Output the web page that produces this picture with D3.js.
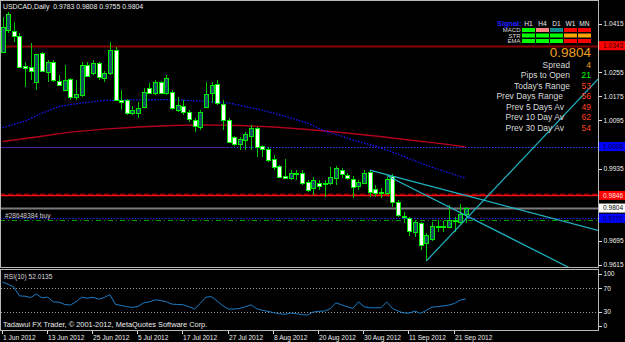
<!DOCTYPE html>
<html><head><meta charset="utf-8">
<script src="https://cdn.jsdelivr.net/npm/d3@7"></script>
<style>html,body{margin:0;padding:0;background:#000;overflow:hidden}text{font-family:"Liberation Sans",Arial,sans-serif}</style>
</head><body><svg id="c" width="625" height="342"></svg>
<script>
// ---------------- DATA ----------------
const titleText = "USDCAD,Daily  0.9783 0.9808 0.9755 0.9804";
const dateTickIdx = [0, 8, 16, 24, 32, 40, 48, 56, 64, 72, 80];
const dateLabels = ["1 Jun 2012","13 Jun 2012","25 Jun 2012","5 Jul 2012","17 Jul 2012","27 Jul 2012","8 Aug 2012","20 Aug 2012","30 Aug 2012","11 Sep 2012","21 Sep 2012"];
const priceTicks = [1.0415, 1.0335, 1.0255, 1.0175, 1.0095, 1.0015, 0.9935, 0.9855, 0.9775, 0.9695, 0.9615];
const rsiTicks = [100, 70, 30, 0];

const openP  = [1.0322,1.0395,1.0392,1.0375,1.0276,1.0272,1.0222,1.0319,1.0256,1.0289,1.0226,1.0196,1.0232,1.0173,1.0179,1.0279,1.0252,1.0285,1.0236,1.0252,1.0329,1.0163,1.0163,1.0120,1.0120,1.0139,1.0202,1.0186,1.0222,1.0186,1.0189,1.0129,1.0143,1.0123,1.0096,1.0073,1.0139,1.0186,1.0216,1.0149,1.0096,1.0040,1.0017,1.0030,1.0043,1.0070,1.0010,1.0000,0.9967,0.9944,0.9910,0.9904,0.9917,0.9920,0.9890,0.9870,0.9887,0.9884,0.9887,0.9904,0.9930,0.9914,0.9900,0.9877,0.9887,0.9924,0.9867,0.9857,0.9854,0.9910,0.9824,0.9778,0.9771,0.9724,0.9754,0.9688,0.9701,0.9744,0.9741,0.9741,0.9764,0.9758,0.9783];
const highP  = [1.0438,1.0455,1.0422,1.0385,1.0289,1.0352,1.0315,1.0322,1.0295,1.0295,1.0246,1.0279,1.0236,1.0229,1.0289,1.0289,1.0295,1.0289,1.0259,1.0355,1.0339,1.0196,1.0166,1.0143,1.0156,1.0202,1.0219,1.0229,1.0226,1.0246,1.0196,1.0173,1.0163,1.0129,1.0103,1.0129,1.0222,1.0222,1.0229,1.0163,1.0103,1.0043,1.0040,1.0056,1.0080,1.0073,1.0013,1.0007,0.9980,0.9947,0.9967,0.9930,0.9930,0.9930,0.9897,0.9907,0.9897,0.9897,0.9940,0.9944,0.9937,0.9920,0.9910,0.9897,0.9930,0.9930,0.9880,0.9870,0.9907,0.9917,0.9830,0.9791,0.9774,0.9764,0.9758,0.9721,0.9758,0.9764,0.9761,0.9814,0.9774,0.9817,0.9808];
const lowP   = [1.0319,1.0385,1.0355,1.0269,1.0206,1.0229,1.0196,1.0256,1.0222,1.0222,1.0209,1.0193,1.0163,1.0163,1.0173,1.0239,1.0246,1.0229,1.0222,1.0246,1.0163,1.0129,1.0113,1.0113,1.0103,1.0136,1.0183,1.0179,1.0183,1.0179,1.0129,1.0123,1.0113,1.0090,1.0056,1.0063,1.0136,1.0153,1.0146,1.0063,1.0020,1.0010,0.9997,0.9997,0.9997,0.9973,0.9973,0.9957,0.9930,0.9904,0.9900,0.9897,0.9897,0.9880,0.9857,0.9847,0.9864,0.9841,0.9880,0.9880,0.9904,0.9897,0.9837,0.9864,0.9884,0.9841,0.9841,0.9837,0.9847,0.9807,0.9774,0.9754,0.9711,0.9708,0.9665,0.9628,0.9694,0.9724,0.9724,0.9738,0.9724,0.9748,0.9755];
const closeP = [1.0405,1.0448,1.0375,1.0272,1.0269,1.0259,1.0315,1.0259,1.0289,1.0229,1.0212,1.0229,1.0173,1.0183,1.0279,1.0242,1.0285,1.0239,1.0252,1.0329,1.0163,1.0156,1.0120,1.0129,1.0136,1.0189,1.0186,1.0222,1.0186,1.0236,1.0136,1.0146,1.0123,1.0100,1.0076,1.0123,1.0183,1.0212,1.0153,1.0096,1.0023,1.0017,1.0033,1.0050,1.0070,1.0007,1.0000,0.9963,0.9940,0.9907,0.9904,0.9920,0.9920,0.9887,0.9864,0.9897,0.9877,0.9887,0.9907,0.9937,0.9917,0.9904,0.9874,0.9890,0.9920,0.9857,0.9854,0.9854,0.9900,0.9824,0.9781,0.9774,0.9728,0.9758,0.9681,0.9714,0.9744,0.9741,0.9744,0.9764,0.9761,0.9784,0.9804];

const maBlueIdx = [0,4,7,10,14,18,22,30,35,40,45,48,51,54,57,60,62,66,70,74,78,82];
const maBlueVal = [1.0071,1.0093,1.0119,1.0141,1.0153,1.0161,1.0163,1.0164,1.0159,1.0153,1.0133,1.0119,1.0103,1.0086,1.0060,1.0043,1.0030,1.0010,0.9983,0.9953,0.9927,0.9903];
const maRedIdx = [0,6,12,18,24,30,36,42,48,54,60,66,72,78,82];
const maRedVal = [1.0025,1.0040,1.0056,1.0066,1.0073,1.0078,1.0080,1.0078,1.0073,1.0065,1.0055,1.0043,1.0030,1.0017,1.0007];

const rsiVal = [80.7,76.8,72.3,57.1,56.5,54.3,60.4,53.7,54.9,46.9,46.4,42.5,41.4,46.9,54.9,53.2,54.9,51.5,54.3,59.4,42.5,40.8,38.5,37.5,39.2,45.2,46.9,50.3,49.3,46.9,43.0,42.5,41.9,38.5,34.6,44.2,54.9,55.8,48.1,40.2,34.6,34.6,35.8,38.5,41.9,35.1,32.4,30.7,28.4,26.7,25.6,27.8,26.7,25.0,24.5,29.5,30.7,31.2,35.1,45.2,41.9,38.5,35.8,46.9,38.5,36.8,36.8,36.8,46.9,35.8,31.2,27.8,27.8,31.2,27.3,32.4,38.0,38.5,40.2,41.4,44.2,49.8,52.0];
const rsiLabel = "RSI(10) 52.0135";

const levelPrices = [1.0343, 1.0008, 0.9846, 0.9804, 0.9770];
const levelLabels = ["1.0343", "1.0008", "0.9846", "0.9804", "0.9770"];
const orderPrice = 0.9764;
const orderLabel = "#28648384 buy";
const resistDashPrice = 0.9851;

const trendStart = [[65, 0.9930], [68, 0.9912], [75, 0.9628]];
const trendEnd   = [[105, 0.9732], [100, 0.9609], [97, 1.0065]];

const sigCols = ["H1","H4","D1","W1","MN"];
const sigRows = ["MACD","STR","EMA"];
const sigColors = [["#00ff00","#ff8080","#108c8c","#ff0000","#ff0000"],
                   ["#00ff00","#00ff00","#00ff00","#ffa500","#ffa500"],
                   ["#00ff00","#00ff00","#00ff00","#ff0000","#ff0000"]];
const bidText = "0.9804";
const infoLabels = ["Spread","Pips to Open","Today's Range","Prev Days Range","Prev 5 Days Av","Prev 10 Day Av","Prev 30 Day Av"];
const infoValues = ["4","21","53","56","49","62","54"];
const infoColors = ["#f0a020","#00ff00","#ff4020","#ff4020","#ff4020","#ff4020","#ff4020"];
const copyright = "Tadawul FX Trader, \u00a9 2001-2012, MetaQuotes Software Corp.";

// ---------------- DRAW ----------------
const svg = d3.select("#c");
const W = 598, H = 267;
svg.append("rect").attr("width",625).attr("height",342).attr("fill","#000");

const x = d3.scaleLinear().domain([0, 82]).range([2.5, 465.8]);
const y = d3.scaleLinear().domain([0.9615, 1.0415]).range([265, 24]);
const yr = d3.scaleLinear().domain([0, 100]).range([329.3, 270.8]);

svg.append("defs").append("clipPath").attr("id","cp").append("rect")
  .attr("x",0).attr("y",0).attr("width",W).attr("height",H);
const g = svg.append("g").attr("clip-path","url(#cp)");

// horizontal levels
const hl = (p, color, w, dash, x0, x1) => g.append("line")
  .attr("x1", x0 === undefined ? 0 : x0).attr("x2", x1 === undefined ? W : x1)
  .attr("y1", Math.round(y(p)) + 0.5).attr("y2", Math.round(y(p)) + 0.5)
  .attr("stroke", color).attr("stroke-width", w).attr("stroke-dasharray", dash || null);
hl(levelPrices[0], "#8a0000", 2);
hl(levelPrices[1], "#3a3aff", 1, "1.5,1.5");
hl(levelPrices[1], "#4a22a8", 1.2, null, 0, x(40));
hl(resistDashPrice, "#8a0000", 2, "5,3");
hl(levelPrices[2], "#ff1010", 1.3);
hl(levelPrices[3], "#7a7a7a", 2);
hl(levelPrices[4], "#2a2aff", 1, "1.5,1.5");
hl(orderPrice, "#00a000", 1, "5,3,1,3");

// moving averages
const line = d3.line().x(d => x(d[0])).y(d => y(d[1]));
g.append("path").datum(maRedIdx.map((v,i)=>[v, maRedVal[i]])).attr("d", line)
  .attr("fill","none").attr("stroke","#b0001c").attr("stroke-width",1.4);
g.append("path").datum(maBlueIdx.map((v,i)=>[v, maBlueVal[i]])).attr("d", line)
  .attr("fill","none").attr("stroke","#1a1aff").attr("stroke-width",1.3).attr("stroke-dasharray","1.5,1.5");

// candles
const bars = openP.map((o,i)=>({i, o, h: highP[i], l: lowP[i], c: closeP[i]}));
const cg = g.append("g").attr("shape-rendering","crispEdges");
bars.forEach(b => {
  const cx = Math.round(x(b.i)) + 0.5;
  cg.append("line").attr("x1",cx).attr("x2",cx).attr("y1",y(b.h)).attr("y2",y(b.l))
    .attr("stroke","#00c800").attr("stroke-width",1);
  const top = Math.round(y(Math.max(b.o,b.c))) + 0.5;
  const bot = Math.round(y(Math.min(b.o,b.c))) + 0.5;
  cg.append("rect").attr("x",cx-2).attr("y",top).attr("width",4).attr("height",Math.max(1,bot-top))
    .attr("fill", b.c >= b.o ? "#14505f" : "#ffffff").attr("stroke","#00ee00").attr("stroke-width",1);
});

// trendlines
trendStart.forEach((s,k) => {
  const e = trendEnd[k];
  const slope = (e[1]-s[1])/(e[0]-s[0]);
  const xe = 110;
  g.append("line").attr("x1",x(s[0])).attr("y1",y(s[1]))
    .attr("x2",x(xe)).attr("y2",y(s[1]+slope*(xe-s[0])))
    .attr("stroke","#20b4c4").attr("stroke-width",1.2);
});

// frames
svg.append("rect").attr("x",0.5).attr("y",0.5).attr("width",W).attr("height",H)
  .attr("fill","none").attr("stroke","#b8b8b8").attr("stroke-width",1);
svg.append("rect").attr("x",0.5).attr("y",269.5).attr("width",W).attr("height",61)
  .attr("fill","none").attr("stroke","#b8b8b8").attr("stroke-width",1);

// price axis (tick labels hidden where a level label box covers them)
const ax = svg.append("g");
priceTicks.forEach(p => {
  const yy = y(p);
  ax.append("line").attr("x1",599).attr("x2",602).attr("y1",Math.round(yy)+0.5).attr("y2",Math.round(yy)+0.5).attr("stroke","#ddd");
  const covered = levelPrices.some(lp => Math.abs(y(lp) - yy) < 9.5);
  if (!covered) ax.append("text").attr("x",603.5).attr("y",yy+2.4).attr("fill","#eee").attr("font-size",6.6).text(p.toFixed(4));
});
const labStyle = [["#ff0000","#300000"],["#0000ff","#000040"],["#ff0000","#ffe0e0"],["#ffffff","#000000"],["#0000ff","#000040"]];
levelPrices.forEach((p,k) => {
  const yy = y(p);
  ax.append("rect").attr("x",599).attr("y",yy-4.5).attr("width",26).attr("height",9).attr("fill",labStyle[k][0]);
  ax.append("text").attr("x",603).attr("y",yy+2.4).attr("fill",labStyle[k][1]).attr("font-size",6.6).text(levelLabels[k]);
});

// RSI panel
const rg = svg.append("g");
[70,30].forEach(v => rg.append("line").attr("x1",1).attr("x2",W).attr("y1",Math.round(yr(v))+0.5).attr("y2",Math.round(yr(v))+0.5)
  .attr("stroke","#9a9a9a").attr("stroke-dasharray","1,2"));
rg.append("path").datum(rsiVal.map((v,i)=>[i,v]))
  .attr("d", d3.line().x(d=>x(d[0])).y(d=>yr(d[1])))
  .attr("fill","none").attr("stroke","#1f7cc4").attr("stroke-width",1);
rsiTicks.forEach(v => {
  const yy = Math.min(326, Math.max(274, yr(v)));
  rg.append("line").attr("x1",599).attr("x2",602).attr("y1",Math.round(yy)+0.5).attr("y2",Math.round(yy)+0.5).attr("stroke","#ddd");
  rg.append("text").attr("x",603.5).attr("y",yy+2.4).attr("fill","#eee").attr("font-size",6.6).text(v);
});
rg.append("text").attr("x",4).attr("y",278.5).attr("fill","#ddd").attr("font-size",6.6).text(rsiLabel);
rg.append("text").attr("x",3).attr("y",327).attr("fill","#eee").attr("font-size",7.4).text(copyright);

// date axis
dateTickIdx.forEach((d,k) => {
  const xx = Math.round(x(d)) - 0.5;
  svg.append("line").attr("x1",xx).attr("x2",xx).attr("y1",331).attr("y2",334).attr("stroke","#ddd");
  svg.append("text").attr("x",xx+0.5).attr("y",339.5).attr("fill","#eee").attr("font-size",6.6).text(dateLabels[k]);
});

// title & order label
svg.append("text").attr("x",3).attr("y",9).attr("fill","#eee").attr("font-size",6.9).attr("xml:space","preserve").text(titleText);
svg.append("text").attr("x",5).attr("y",218).attr("fill","#ccc").attr("font-size",6.6).text(orderLabel);

// signal panel
const sp = svg.append("g");
sp.append("text").attr("x",497).attr("y",26).attr("fill","#2020ff").attr("font-size",7.4).attr("font-weight","bold").text("Signal:");
const colX = [522, 536, 550, 564, 578];
sigCols.forEach((c,j) => sp.append("text").attr("x",colX[j]+6.5).attr("y",26).attr("text-anchor","middle")
  .attr("fill","#eee").attr("font-size",6.6).text(c));
const rowY = [30, 35.5, 41];
sigRows.forEach((r,i) => {
  sp.append("text").attr("x",520.5).attr("y",rowY[i]+2.3).attr("text-anchor","end").attr("fill","#ddd").attr("font-size",6).text(r);
  sigColors[i].forEach((col,j) => sp.append("rect").attr("x",colX[j]).attr("y",rowY[i]-2).attr("width",13).attr("height",4).attr("fill",col));
});
sp.append("text").attr("x",591).attr("y",56.5).attr("text-anchor","end").attr("fill","#f0a020").attr("font-size",13.5).text(bidText);
const infoY = [64.5, 75, 85.5, 96, 106.5, 117, 127.5];
const infoRight = [570, 570, 570, 563, 564, 564, 564];
infoLabels.forEach((t,k) => {
  sp.append("text").attr("x",infoRight[k]).attr("y",infoY[k]+3).attr("text-anchor","end").attr("fill","#d8d8d8").attr("font-size",8.5).text(t);
  sp.append("text").attr("x",591).attr("y",infoY[k]+3).attr("text-anchor","end").attr("fill",infoColors[k]).attr("font-size",8.5).text(infoValues[k]);
});
</script></body></html>
